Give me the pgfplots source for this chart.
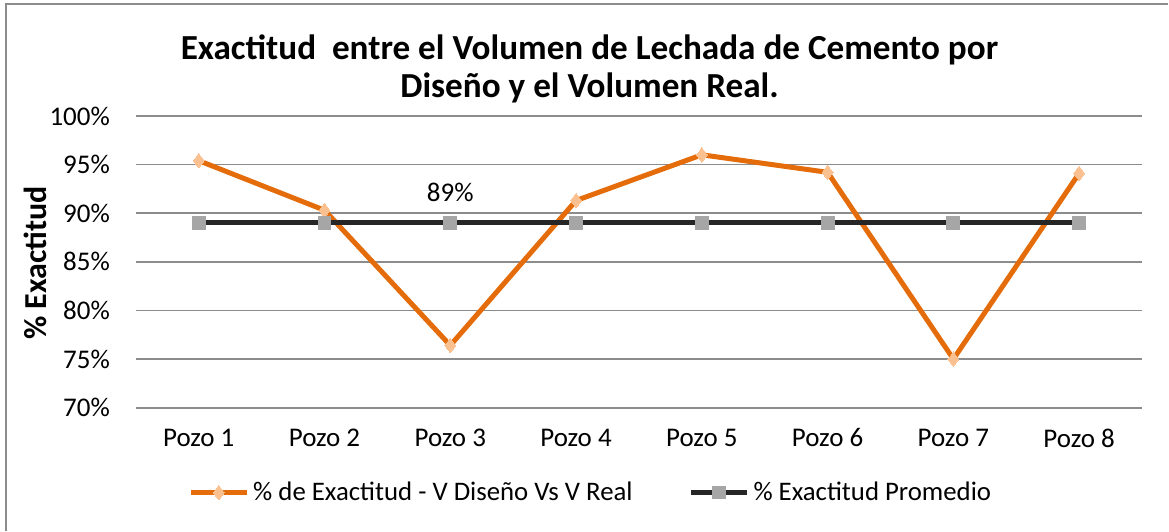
\documentclass[border=0pt]{standalone}
\usepackage{pgfplots}
\pgfplotsset{compat=1.18}
\usepackage{fontspec}
\setmainfont{Carlito}
\definecolor{exorange}{HTML}{E46C0A}
\definecolor{exmark}{HTML}{FAC090}
\definecolor{exdark}{HTML}{262626}
\definecolor{exgray}{HTML}{A6A6A6}
\definecolor{gridc}{HTML}{8C8C8C}
\begin{document}
\begin{tikzpicture}
% page: 1169 x 531 px at 0.5pt per px
\path (0,0) rectangle (584.5pt,-265.5pt);
\draw[gridc, line width=1pt] (3pt,-265.5pt) -- (3pt,-2pt) -- (584.5pt,-2pt);
\node[font=\fontsize{17.6}{19}\selectfont\bfseries, align=center] at (295pt,-34.5pt)
  {Exactitud\ \ entre el Volumen de Lechada de Cemento por\\Diseño y el Volumen Real.};
\node[font=\fontsize{16}{18}\selectfont\bfseries, rotate=90] at (17.5pt,-131.5pt) {\% Exactitud};
\begin{axis}[
  at={(68pt,-204pt)}, anchor=south west,
  scale only axis, width=503.5pt, height=146pt,
  xmin=0.5, xmax=8.5, ymin=70, ymax=100,
  xtick={1,...,8},
  xticklabels={Pozo 1,Pozo 2,Pozo 3,Pozo 4,Pozo 5,Pozo 6,Pozo 7,Pozo 8},
  ytick={70,75,...,100},
  yticklabels={70\%,75\%,80\%,85\%,90\%,95\%,100\%},
  ticklabel style={font=\fontsize{13.5}{15}\selectfont},
  xticklabel style={yshift=-7pt},
  yticklabel style={xshift=-9.5pt},
  major tick length=0pt,
  axis line style={draw=none},
  ymajorgrids, grid style={gridc, line width=0.9pt},
  clip=false,
  legend columns=2,
  legend style={at={(0.453,-0.291)}, anchor=center, draw=none, fill=none,
    font=\fontsize{13.4}{15}\selectfont,
    /tikz/every even column/.append style={column sep=26pt}},
  legend image code/.code={
    \draw[#1] (0pt,0pt) -- (28pt,0pt);
    \draw[#1, mark repeat=1] plot coordinates {(14pt,0pt)};
  },
]
\addplot[exorange, line width=2.5pt, mark=diamond*,
  mark options={draw=exmark, fill=exmark, line width=0pt}, mark size=3.6pt]
  coordinates {(1,95.4) (2,90.3) (3,76.4) (4,91.3) (5,96.0) (6,94.2) (7,75.0) (8,94.1)};
\addlegendentry{\% de Exactitud - V Diseño Vs V Real}
\addplot[exdark, line width=2.5pt, mark=square*,
  mark options={draw=exgray, fill=exgray, line width=0pt}, mark size=3.2pt]
  coordinates {(1,89) (2,89) (3,89) (4,89) (5,89) (6,89) (7,89) (8,89)};
\addlegendentry{\% Exactitud Promedio}
\node[font=\fontsize{13.5}{15}\selectfont] at (axis cs:3,92.1) {89\%};
\end{axis}
\end{tikzpicture}
\end{document}
